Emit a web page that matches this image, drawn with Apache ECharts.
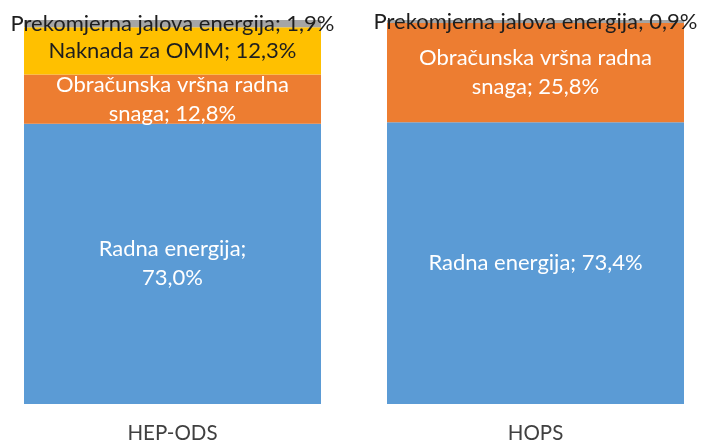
<!DOCTYPE html>
<html>
<head>
<meta charset="utf-8">
<script src="https://cdn.jsdelivr.net/npm/echarts@6/dist/echarts.min.js"></script>
<style>
  html, body { margin: 0; padding: 0; background: #fff; }
  #main { width: 712px; height: 445px; }
</style>
</head>
<body>
<div id="main"></div>
<script>
const categories = ['HEP-ODS', 'HOPS'];
const seriesNames = ['Radna energija', 'Obračunska vršna radna snaga', 'Naknada za OMM', 'Prekomjerna jalova energija'];
const radna = [73.0, 73.4];
const obracunska = [12.8, 25.8];
const naknada = [12.3, null];
const prekomjerna = [1.9, 0.9];

const colors = ['#5B9BD5', '#ED7D31', '#FFC000', '#A5A5A5'];
const labelColors = ['#fff', '#fff', '#1e1e1e', '#1e1e1e'];
const FONT = 'Lato';

function pct(v) {
  return v.toFixed(1).replace('.', ',') + '%';
}

// how Excel wrapped each label in the original
function labelText(si, di, v) {
  const name = seriesNames[si];
  if (si === 0 && di === 0) return 'Radna energija;\n' + pct(v);
  if (si === 1) return 'Obračunska vršna radna\nsnaga; ' + pct(v);
  return name + '; ' + pct(v);
}

const values = [radna, obracunska, naknada, prekomjerna];

const myChart = echarts.init(document.getElementById('main'));
myChart.setOption({
  animation: false,
  grid: { left: -9, right: -5, top: 20, bottom: 41, outerBoundsMode: 'none' },
  xAxis: {
    type: 'category',
    data: categories,
    axisLine: { show: false },
    axisTick: { show: false },
    axisLabel: { color: '#404040', fontSize: 20.5, fontFamily: FONT, margin: 19 }
  },
  yAxis: {
    type: 'value',
    min: 0,
    max: 100,
    show: false,
    splitLine: { show: false }
  },
  series: values.map((arr, si) => ({
    name: seriesNames[si],
    type: 'bar',
    stack: 'total',
    barWidth: 297,
    data: arr,
    itemStyle: { color: colors[si] },
    label: {
      show: true,
      position: 'inside',
      color: labelColors[si],
      fontSize: 22,
      lineHeight: 29,
      fontFamily: FONT,
      formatter: (p) => labelText(si, p.dataIndex, p.value)
    }
  }))
});
</script>
</body>
</html>
